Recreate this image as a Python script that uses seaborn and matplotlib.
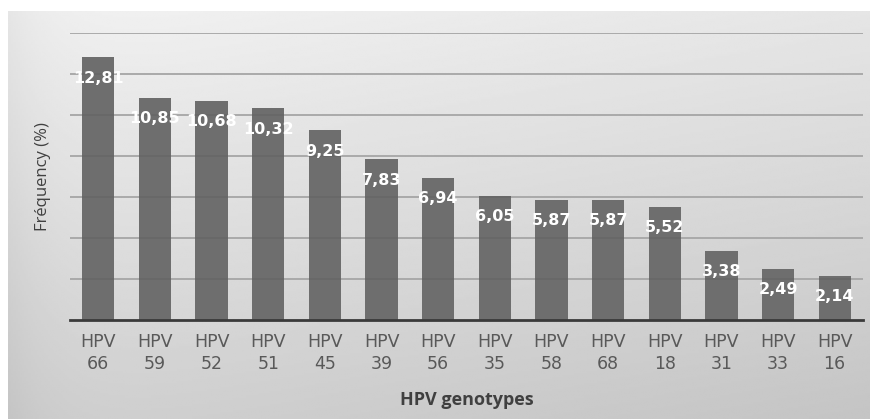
import numpy as np
import matplotlib
matplotlib.use("Agg")
import matplotlib.pyplot as plt
import seaborn as sns
import pandas as pd

genotypes = ["HPV\n66", "HPV\n59", "HPV\n52", "HPV\n51", "HPV\n45", "HPV\n39", "HPV\n56",
             "HPV\n35", "HPV\n58", "HPV\n68", "HPV\n18", "HPV\n31", "HPV\n33", "HPV\n16"]
frequency = [12.81, 10.85, 10.68, 10.32, 9.25, 7.83, 6.94, 6.05, 5.87, 5.87, 5.52, 3.38, 2.49, 2.14]
ygrid = [2, 4, 6, 8, 10, 12, 14]

sns.set_theme(style="white")
plt.rcParams['font.family'] = ['DejaVu Sans']

W, H = 877, 419
fig = plt.figure(figsize=(W / 100, H / 100), dpi=100)
fig.patch.set_facecolor("white")

# gradient background panel
bg = fig.add_axes([8 / W, 0, (870 - 8) / W, (H - 11) / H])
bg.set_axis_off()
yy, xx = np.mgrid[0:1:200j, 0:1:400j]
val = 0.95 - 0.13 * yy - 0.05 * xx - 0.05 * np.exp(-xx / 0.05)
bg.imshow(val, cmap="gray", vmin=0, vmax=1, aspect="auto", extent=[0, 1, 1, 0], interpolation="bilinear")
bg.set_xlim(0, 1); bg.set_ylim(1, 0)

ax = fig.add_axes([70 / W, (H - 320) / H, (863 - 70) / W, (320 - 33) / H])
ax.set_facecolor("none")
df = pd.DataFrame({"genotype": genotypes, "freq": frequency})
sns.barplot(data=df, x="genotype", y="freq", color="#6e6e6e", saturation=1, width=0.57,
            linewidth=0, edgecolor="none", ax=ax, zorder=2)
ax.set_xlim(-0.5, len(genotypes) - 0.5)
ax.set_ylim(0, 14)
ax.set_yticks(ygrid)
ax.set_yticklabels([])
ax.tick_params(axis="both", length=0)
for g in ygrid:
    ax.axhline(g, color="#c2c2c2", lw=1.3, zorder=1)
    ax.axhline(g, color="#555555", lw=1.3, alpha=0.25, zorder=3)
for s in ["top", "right", "left"]:
    ax.spines[s].set_visible(False)
ax.spines["bottom"].set_color("#3a3a3a")
ax.spines["bottom"].set_linewidth(2)
ax.spines["bottom"].set_zorder(4)

for i, v in enumerate(frequency):
    ax.annotate(f"{v:.2f}".replace(".", ","), (i, v), xytext=(0, -15), textcoords="offset points",
                ha="center", va="center", color="white", fontweight="bold", fontsize=11.5, zorder=5)

ax.set_xticks(range(len(genotypes)))
ax.set_xticklabels(genotypes, fontsize=12.5, color="#595959", linespacing=1.35,
                   family=["DejaVu Sans"])
ax.tick_params(axis="x", pad=9)
ax.set_xlabel("HPV genotypes", fontsize=13, fontweight="bold", color="#404040", labelpad=13,
              family=["Open Sans", "DejaVu Sans"])
ax.set_ylabel("Fréquency (%)", fontsize=12, color="#404040", family=["Open Sans", "DejaVu Sans"], labelpad=10)

fig.savefig("out.png", dpi=100)
